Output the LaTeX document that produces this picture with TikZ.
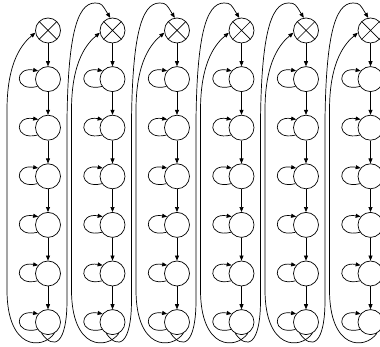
\documentclass[tikz,border=0pt]{standalone}
\usepackage{tikz}
\usetikzlibrary{arrows.meta}

\begin{document}
\begin{tikzpicture}[x=1pt, y=1pt, line width=0.7pt,
  >={Triangle[length=5pt,width=4pt]},
  st/.style={draw, circle, minimum size=25pt, inner sep=0pt},
  mix/.style={st, path picture={\draw (path picture bounding box.south west) -- (path picture bounding box.north east)
    (path picture bounding box.north west) -- (path picture bounding box.south east);}},
  selfloop/.style={out=194, in=170, looseness=4}]
\clip (0,0) rectangle (380,347);
% six columns: a mixing node on top of a chain of six states
\foreach \c in {1,...,6} {
  \pgfmathsetmacro{\cx}{48+64.5*(\c-1)}
  \node[mix] (x\c) at (\cx,316.5) {};
  \foreach \r in {1,...,6} {
    \node[st] (s\c-\r) at (\cx,316.5-48.6*\r) {};
    \draw[->] (s\c-\r.215) to[selfloop] (s\c-\r.140);
  }
  \draw[->] (x\c) -- (s\c-1);
  \foreach \r [evaluate=\r as \n using int(\r+1)] in {1,...,5}
    \draw[->] (s\c-\r) -- (s\c-\n);
  % back from the last state to the own mixing node
  \draw[->] (s\c-6.300) .. controls +(-12,-17) and +(0,-60) .. (\cx-41,57) -- (\cx-41,237)
    .. controls +(0,50) and +(-12,-10) .. (x\c.190);
}
% last state of a column over to the next mixing node
\foreach \c [evaluate=\c as \n using int(\c+1)] in {1,...,5} {
  \pgfmathsetmacro{\cx}{48+64.5*(\c-1)}
  \draw[->] (s\c-6.240) .. controls +(12,-17) and +(0,-45) .. (\cx+19,47) -- (\cx+19,227)
    .. controls +(1,80) and +(-19,0) .. (\cx+47,344)
    .. controls +(7,0) and +(-8,13) .. (x\n.100);
}
\end{tikzpicture}
\end{document}
